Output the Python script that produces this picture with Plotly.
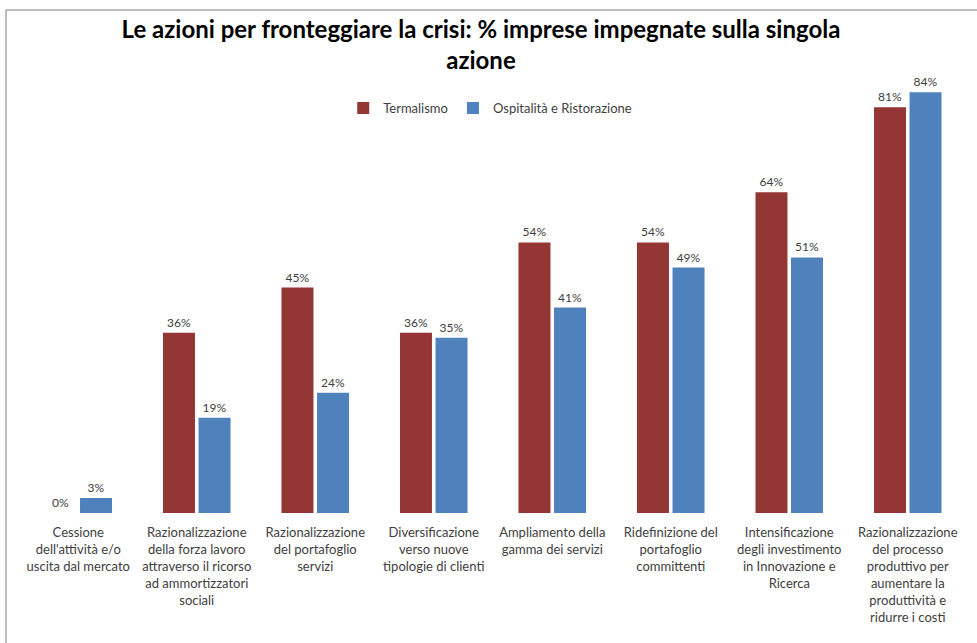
import plotly.graph_objects as go

# Actions taken to face the crisis: share of firms engaged in each action
categories = [
    "Cessione<br>dell'attività e/o<br>uscita dal mercato",
    "Razionalizzazione<br>della forza lavoro<br>attraverso il ricorso<br>ad ammortizzatori<br>sociali",
    "Razionalizzazione<br>del portafoglio<br>servizi",
    "Diversificazione<br>verso nuove<br>tipologie di clienti",
    "Ampliamento della<br>gamma dei servizi",
    "Ridefinizione del<br>portafoglio<br>committenti",
    "Intensificazione<br>degli investimento<br>in Innovazione e<br>Ricerca",
    "Razionalizzazione<br>del processo<br>produttivo per<br>aumentare la<br>produttività e<br>ridurre i costi",
]
termalismo = [0, 36, 45, 36, 54, 54, 64, 81]
ospitalita = [3, 19, 24, 35, 41, 49, 51, 84]

series_names = ["Termalismo", "Ospitalità e Ristorazione"]
colors = ["#943634", "#4F81BD"]

W, H = 977, 643
ml, mr, mt, mb = 19, 10, 12, 130

fig = go.Figure()
for name, vals, col in zip(series_names, [termalismo, ospitalita], colors):
    fig.add_trace(go.Bar(
        name=name, x=categories, y=vals, marker_color=col,
        marker_line_width=0,
        text=[f"{v}%" for v in vals], textposition="outside",
        textfont=dict(family="Lato", size=12, color="#404040"),
        cliponaxis=False,
    ))

fig.update_layout(
    width=W, height=H,
    margin=dict(l=ml, r=mr, t=mt, b=mb),
    paper_bgcolor="white", plot_bgcolor="white",
    barmode="group", bargap=0.4, bargroupgap=0.1,
    title=dict(
        text="<b>Le azioni per fronteggiare la crisi: % imprese impegnate sulla singola<br>azione</b>",
        x=(481 - ml) / (W - ml - mr), xref="paper", xanchor="center",
        y=1 - 38 / H, yref="container", yanchor="bottom",
        font=dict(family="Lato", size=24, color="#000000"),
    ),
    legend=dict(
        orientation="h", x=0.342, y=(H - mb - 108) / (H - mt - mb),
        xanchor="left", yanchor="middle",
        font=dict(family="Lato", size=13, color="#404040"),
        bgcolor="rgba(0,0,0,0)",
    ),
    xaxis=dict(
        showline=False, showgrid=False, ticks="",
        ticklabelstandoff=10,
        tickfont=dict(family="Lato", size=13, color="#404040"),
    ),
    yaxis=dict(range=[0, 100], visible=False),
    showlegend=True,
)

# Chart frame (top and left edges)
pw, ph = W - ml - mr, H - mt - mb
x_left = (6 - ml) / pw
y_top = (H - mb - 10) / ph
fig.add_shape(type="line", xref="paper", yref="paper",
              x0=x_left, x1=1.2, y0=y_top, y1=y_top,
              line=dict(color="#A6A6A6", width=1.5))
fig.add_shape(type="line", xref="paper", yref="paper",
              x0=x_left, x1=x_left, y0=y_top, y1=-0.5,
              line=dict(color="#A6A6A6", width=1.5))

fig.write_html("out.html")
